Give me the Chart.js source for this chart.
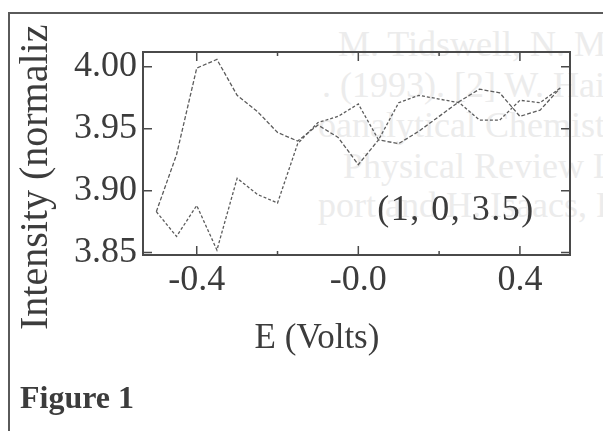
<!DOCTYPE html>
<html>
<head>
<meta charset="utf-8">
<script src="https://cdn.jsdelivr.net/npm/chart.js@4.4.0/dist/chart.umd.min.js"></script>
<style>
    html, body { margin: 0; padding: 0; background: #ffffff; }
    body { width: 603px; height: 431px; overflow: hidden; position: relative; font-family: "Liberation Serif", "DejaVu Serif", serif; color: #3c3c3c; }
    #marco { position: absolute; left: 8px; top: 12px; width: 700px; height: 500px; border-top: 2px solid #5a5a5a; border-left: 2px solid #5a5a5a; }
    #fondo { position: absolute; left: 0; top: 0; width: 603px; height: 431px; }
    .fantasma { position: absolute; white-space: nowrap; font-size: 36px; line-height: 36px; color: #ececec; }
    #grafica { position: absolute; left: 0; top: 0; }
    .texto { position: absolute; white-space: nowrap; line-height: 1; }
    #tituloX { font-size: 35px; left: 317px; top: 319px; transform: translateX(-50%); }
    #tituloY { font-size: 40px; left: 14px; top: 330px; transform-origin: left top; transform: rotate(-90deg); }
    #etiqueta { font-size: 36px; letter-spacing: 1.5px; left: 456px; top: 190px; transform: translateX(-50%); }
    #figura { font-size: 32px; font-weight: bold; left: 20px; top: 381px; }
</style>
</head>
<body>
<div id="fondo">
    <div class="fantasma" style="left:338px; top:26px;">M. Tidswell, N. M. Markovic, C. A. Lucas</div>
    <div class="fantasma" style="left:322px; top:67px;">. (1993). [2] W. Haiss, F. J. Nichols</div>
    <div class="fantasma" style="left:318px; top:107px;">oanalytical Chemistry, 452, 199 (1998)</div>
    <div class="fantasma" style="left:343px; top:148px;">Physical Review Letters, 73, 2145 (1994)</div>
    <div class="fantasma" style="left:318px; top:187px;">port and H. Isaacs, Physical Review B</div>
</div>
<div id="marco"></div>
<canvas id="grafica" width="603" height="431"></canvas>
<div class="texto" id="tituloY">Intensity (normaliz</div>
<div class="texto" id="tituloX">E (Volts)</div>
<div class="texto" id="etiqueta">(1, 0, 3.5)</div>
<div class="texto" id="figura">Figure 1</div>

<script>
// potencial (V) y las dos barridas de intensidad
const potenciales = [-0.5, -0.45, -0.4, -0.35, -0.3, -0.25, -0.2, -0.15, -0.1, -0.05, 0.0,
                     0.05, 0.1, 0.15, 0.2, 0.25, 0.3, 0.35, 0.4, 0.45, 0.5];
const barridoA = [3.883, 3.929, 3.999, 4.006, 3.977, 3.964, 3.947, 3.940, 3.953, 3.943, 3.921,
                  3.941, 3.938, 3.948, 3.960, 3.972, 3.982, 3.979, 3.960, 3.965, 3.983];
const barridoB = [3.883, 3.863, 3.888, 3.852, 3.910, 3.897, 3.890, 3.938, 3.955, 3.960, 3.970,
                  3.941, 3.971, 3.977, 3.974, 3.971, 3.957, 3.957, 3.973, 3.971, 3.983];

const ticksX = [-0.4, -0.2, 0.0, 0.2, 0.4];
const etiquetasX = ["-0.4", "", "-0.0", "", "0.4"];
const ticksY = [3.85, 3.90, 3.95, 4.00];
const etiquetasY = ["3.85", "3.90", "3.95", "4.00"];

let graficaIntensidad = null;

document.addEventListener("DOMContentLoaded", () => {
    renderizarGrafica();
});

// marco y ticks hacia dentro, como en la figura original
const pluginMarco = {
    id: "marco",
    afterDatasetsDraw(chart) {
        const { ctx, chartArea: a, scales } = chart;
        ctx.save();
        ctx.strokeStyle = "#4a4a4a";
        ctx.lineWidth = 2;
        ctx.strokeRect(a.left, a.top, a.right - a.left, a.bottom - a.top);

        ctx.lineWidth = 1.5;
        ctx.beginPath();
        ticksX.forEach((v, i) => {
            const px = scales.x.getPixelForValue(v);
            const largo = etiquetasX[i] ? 9 : 4;
            ctx.moveTo(px, a.bottom);
            ctx.lineTo(px, a.bottom - largo);
            ctx.moveTo(px, a.top);
            ctx.lineTo(px, a.top + largo);
        });
        ticksY.forEach(v => {
            const py = scales.y.getPixelForValue(v);
            ctx.moveTo(a.left, py);
            ctx.lineTo(a.left + 9, py);
            ctx.moveTo(a.right, py);
            ctx.lineTo(a.right - 9, py);
        });
        ctx.stroke();
        ctx.restore();
    }
};

function renderizarGrafica() {
    const canvas = document.getElementById("grafica");
    if (!canvas) return;

    const fuenteTicks = { family: "Liberation Serif", size: 36 };

    graficaIntensidad = new Chart(canvas, {
        type: "line",
        data: {
            datasets: [
                {
                    label: "barrido A",
                    data: potenciales.map((x, i) => ({ x: x, y: barridoA[i] })),
                    borderColor: "#5c5c5c",
                    borderWidth: 1.3,
                    borderDash: [4, 2],
                    pointRadius: 0,
                    tension: 0
                },
                {
                    label: "barrido B",
                    data: potenciales.map((x, i) => ({ x: x, y: barridoB[i] })),
                    borderColor: "#5c5c5c",
                    borderWidth: 1.3,
                    borderDash: [3, 2],
                    pointRadius: 0,
                    tension: 0
                }
            ]
        },
        options: {
            responsive: false,
            animation: false,
            layout: { padding: { left: 0, top: 52, right: 33, bottom: 0 } },
            plugins: {
                legend: { display: false },
                tooltip: { enabled: false }
            },
            scales: {
                x: {
                    type: "linear",
                    min: -0.533,
                    max: 0.524,
                    grid: { display: false, drawTicks: false },
                    border: { display: false },
                    afterBuildTicks: s => { s.ticks = ticksX.map(v => ({ value: v })); },
                    afterFit: s => { s.height = 176; },
                    ticks: {
                        autoSkip: false,
                        maxRotation: 0,
                        padding: 4,
                        color: "#3c3c3c",
                        font: fuenteTicks,
                        callback: (v, i) => etiquetasX[i]
                    }
                },
                y: {
                    min: 3.848,
                    max: 4.012,
                    grid: { display: false, drawTicks: false },
                    border: { display: false },
                    afterBuildTicks: s => { s.ticks = ticksY.map(v => ({ value: v })); },
                    afterFit: s => { s.width = 143; },
                    ticks: {
                        autoSkip: false,
                        padding: 6,
                        color: "#3c3c3c",
                        font: fuenteTicks,
                        callback: (v, i) => etiquetasY[i]
                    }
                }
            }
        },
        plugins: [pluginMarco]
    });
}
</script>
</body>
</html>
